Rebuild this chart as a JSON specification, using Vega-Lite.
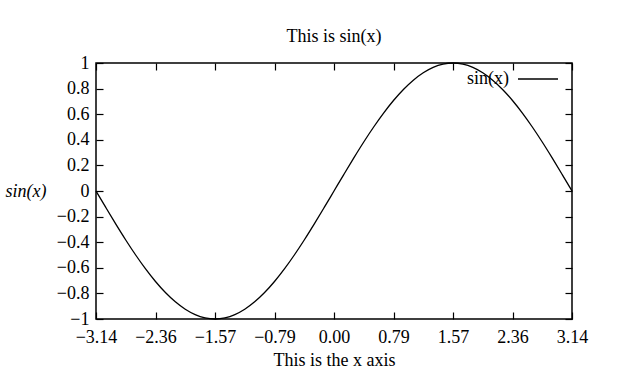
{
  "$schema": "https://vega.github.io/schema/vega-lite/v6.json",
  "width": 476,
  "height": 256,
  "autosize": {"type": "none"},
  "padding": {"left": 96, "top": 63, "right": 45, "bottom": 57},
  "background": "white",
  "title": {"text": "This is sin(x)", "font": "Liberation Serif", "fontSize": 18, "fontWeight": "normal", "color": "black", "offset": 8},
  "config": {
    "view": {"stroke": "black", "strokeWidth": 1.5},
    "axis": {"labelFont": "Liberation Serif", "titleFont": "Liberation Serif", "labelFontSize": 18, "titleFontSize": 18, "titleFontWeight": "normal", "labelColor": "black", "titleColor": "black", "domainColor": "black", "tickColor": "black", "grid": false, "tickSize": -7, "tickWidth": 1.2, "domain": false},
    "legend": {"labelFont": "Liberation Serif", "labelFontSize": 18, "labelColor": "black"}
  },
  "data": {"values": [
    {"x": -3.1416, "y": 0.0, "s": "sin(x)"},
    {"x": -3.0107, "y": -0.1305, "s": "sin(x)"},
    {"x": -2.8798, "y": -0.2588, "s": "sin(x)"},
    {"x": -2.7489, "y": -0.3827, "s": "sin(x)"},
    {"x": -2.618, "y": -0.5, "s": "sin(x)"},
    {"x": -2.4871, "y": -0.6088, "s": "sin(x)"},
    {"x": -2.3562, "y": -0.7071, "s": "sin(x)"},
    {"x": -2.2253, "y": -0.7934, "s": "sin(x)"},
    {"x": -2.0944, "y": -0.866, "s": "sin(x)"},
    {"x": -1.9635, "y": -0.9239, "s": "sin(x)"},
    {"x": -1.8326, "y": -0.9659, "s": "sin(x)"},
    {"x": -1.7017, "y": -0.9914, "s": "sin(x)"},
    {"x": -1.5708, "y": -1.0, "s": "sin(x)"},
    {"x": -1.4399, "y": -0.9914, "s": "sin(x)"},
    {"x": -1.309, "y": -0.9659, "s": "sin(x)"},
    {"x": -1.1781, "y": -0.9239, "s": "sin(x)"},
    {"x": -1.0472, "y": -0.866, "s": "sin(x)"},
    {"x": -0.9163, "y": -0.7934, "s": "sin(x)"},
    {"x": -0.7854, "y": -0.7071, "s": "sin(x)"},
    {"x": -0.6545, "y": -0.6088, "s": "sin(x)"},
    {"x": -0.5236, "y": -0.5, "s": "sin(x)"},
    {"x": -0.3927, "y": -0.3827, "s": "sin(x)"},
    {"x": -0.2618, "y": -0.2588, "s": "sin(x)"},
    {"x": -0.1309, "y": -0.1305, "s": "sin(x)"},
    {"x": 0.0, "y": 0.0, "s": "sin(x)"},
    {"x": 0.1309, "y": 0.1305, "s": "sin(x)"},
    {"x": 0.2618, "y": 0.2588, "s": "sin(x)"},
    {"x": 0.3927, "y": 0.3827, "s": "sin(x)"},
    {"x": 0.5236, "y": 0.5, "s": "sin(x)"},
    {"x": 0.6545, "y": 0.6088, "s": "sin(x)"},
    {"x": 0.7854, "y": 0.7071, "s": "sin(x)"},
    {"x": 0.9163, "y": 0.7934, "s": "sin(x)"},
    {"x": 1.0472, "y": 0.866, "s": "sin(x)"},
    {"x": 1.1781, "y": 0.9239, "s": "sin(x)"},
    {"x": 1.309, "y": 0.9659, "s": "sin(x)"},
    {"x": 1.4399, "y": 0.9914, "s": "sin(x)"},
    {"x": 1.5708, "y": 1.0, "s": "sin(x)"},
    {"x": 1.7017, "y": 0.9914, "s": "sin(x)"},
    {"x": 1.8326, "y": 0.9659, "s": "sin(x)"},
    {"x": 1.9635, "y": 0.9239, "s": "sin(x)"},
    {"x": 2.0944, "y": 0.866, "s": "sin(x)"},
    {"x": 2.2253, "y": 0.7934, "s": "sin(x)"},
    {"x": 2.3562, "y": 0.7071, "s": "sin(x)"},
    {"x": 2.4871, "y": 0.6088, "s": "sin(x)"},
    {"x": 2.618, "y": 0.5, "s": "sin(x)"},
    {"x": 2.7489, "y": 0.3827, "s": "sin(x)"},
    {"x": 2.8798, "y": 0.2588, "s": "sin(x)"},
    {"x": 3.0107, "y": 0.1305, "s": "sin(x)"},
    {"x": 3.1416, "y": 0.0, "s": "sin(x)"}
  ]},
  "layer": [
    {
      "mark": {"type": "line", "strokeWidth": 1.3, "interpolate": "monotone"},
      "encoding": {
        "x": {"field": "x", "type": "quantitative", "scale": {"domain": [-3.1416, 3.1416], "nice": false, "zero": false},
          "axis": {"orient": "bottom", "values": [-3.1416, -2.3562, -1.5708, -0.7854, 0, 0.7854, 1.5708, 2.3562, 3.1416], "format": ".2f", "labelPadding": 16, "title": "This is the x axis", "titlePadding": 5, "labelFlush": false}},
        "y": {"field": "y", "type": "quantitative", "scale": {"domain": [-1, 1], "nice": false},
          "axis": {"orient": "left", "values": [-1, -0.8, -0.6, -0.4, -0.2, 0, 0.2, 0.4, 0.6, 0.8, 1], "format": ".1~f", "labelPadding": 14, "title": "sin(x)", "titleAngle": 0, "titleFontStyle": "italic", "titleX": -91, "titleY": 128, "titleAlign": "left", "titleBaseline": "middle"}},
        "color": {"field": "s", "type": "nominal", "scale": {"range": ["black"]},
          "legend": {"title": null, "orient": "none", "legendX": 421, "legendY": -5, "symbolType": "stroke", "symbolSize": 1600, "symbolStrokeWidth": 1.3, "labelAlign": "right", "labelOffset": -50, "padding": 0}}
      }
    },
    {
      "mark": {"type": "line", "strokeWidth": 0, "opacity": 0},
      "encoding": {
        "x": {"field": "x", "type": "quantitative", "axis": {"orient": "top", "values": [-3.1416, -2.3562, -1.5708, -0.7854, 0, 0.7854, 1.5708, 2.3562, 3.1416], "labels": false, "title": null}},
        "y": {"field": "y", "type": "quantitative", "axis": {"orient": "right", "values": [-1, -0.8, -0.6, -0.4, -0.2, 0, 0.2, 0.4, 0.6, 0.8, 1], "labels": false, "title": null}}
      }
    }
  ],
  "resolve": {"axis": {"x": "independent", "y": "independent"}}
}
